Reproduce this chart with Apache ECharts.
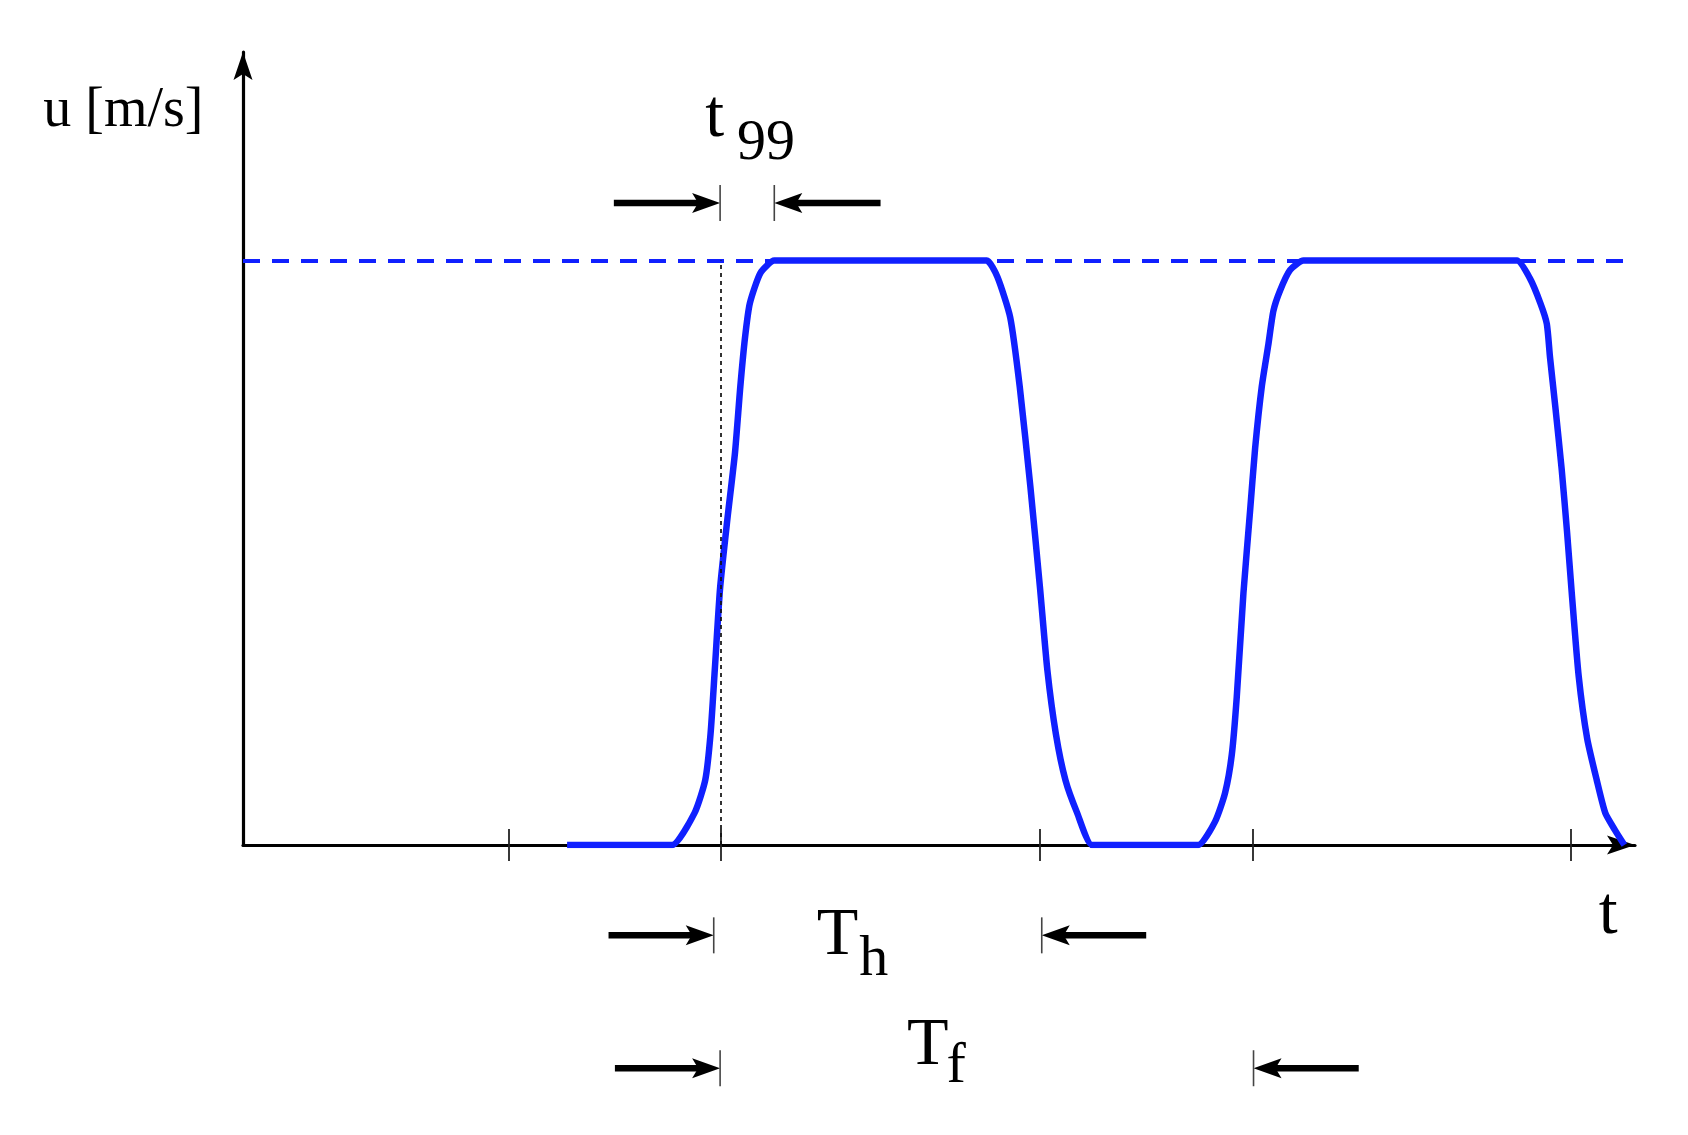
<!DOCTYPE html>
<html>
<head>
<meta charset="utf-8">
<script src="https://cdn.jsdelivr.net/npm/echarts@6/dist/echarts.min.js"></script>
<style>
  html, body { margin: 0; padding: 0; background: #fff; }
  #chart { width: 1688px; height: 1135px; }
</style>
</head>
<body>
<div id="chart"></div>
<script>
// pulse: t in sketch units, u normalised to the plateau
const idle = [[3.05, 0], [3.9, 0], [4.04, 0]];
const rise1 = [[4.25, 0.055], [4.35, 0.111], [4.40, 0.19], [4.44, 0.30], [4.49, 0.44], [4.56, 0.56],
  [4.63, 0.671], [4.68, 0.784], [4.725, 0.869], [4.77, 0.927], [4.87, 0.979], [5.0, 1]];
const hold1 = [[5.15, 1], [6.85, 1], [7.0, 1]];
const fall1 = [[7.10, 0.972], [7.22, 0.903], [7.31, 0.784], [7.41, 0.613], [7.50, 0.441], [7.57, 0.299],
  [7.65, 0.19], [7.74, 0.111], [7.85, 0.055], [7.99, 0]];
const gap1 = [[8.15, 0], [8.85, 0], [8.99, 0]];
const rise2 = [[9.148, 0.04], [9.242, 0.089], [9.305, 0.154], [9.352, 0.253], [9.415, 0.431], [9.478, 0.573],
  [9.525, 0.679], [9.588, 0.785], [9.65, 0.857], [9.697, 0.914], [9.76, 0.949], [9.854, 0.984], [9.98, 1]];
const hold2 = [[10.13, 1], [11.85, 1], [11.99, 1]];
const fall2 = [[12.11, 0.970], [12.21, 0.927], [12.27, 0.892], [12.30, 0.835], [12.35, 0.750], [12.41, 0.643],
  [12.46, 0.537], [12.505, 0.431], [12.57, 0.289], [12.65, 0.182], [12.74, 0.111], [12.82, 0.055],
  [12.91, 0.026], [13.0, 0]];

const tickT = [2.5, 4.5, 7.5, 9.5, 12.5];
const uTarget = 1;
const t99Start = 4.5;

// dimension arrows: [tail t, tip t, u level]
const dimArrows = [
  [3.49, 4.49, 1.0986], [6.0, 5.0, 1.0986],
  [3.44, 4.43, -0.1546], [8.5, 7.517, -0.1546],
  [3.5, 4.49, -0.382], [10.5, 9.51, -0.382]
];

// labels: [text, t, u]
const bigLabels = [['t', 4.35, 1.244], ['T', 5.40, -0.156], ['T', 6.25, -0.344], ['t', 12.76, -0.120]];
const subLabels = [['99', 4.65, 1.2005], ['h', 5.80, -0.197], ['f', 6.62, -0.379]];
const axisLabelU = [['u [m/s]', -1.88, 1.255]];

const pulse = [].concat(idle, rise1, hold1, fall1, gap1, rise2, hold2, fall2);

const SERIF = '"Liberation Serif", "DejaVu Serif", serif';
const BLUE = '#1020ff';
const axisArrow = 'path://M9.5,0 L19,28 L9.5,22 L0,28 Z';

function textSeries(list, size) {
  return {
    type: 'custom',
    clip: false,
    silent: true,
    data: list.map((d) => [d[1], d[2]]),
    encode: { x: 0, y: 1 },
    renderItem(params, api) {
      const p = api.coord([api.value(0), api.value(1)]);
      return {
        type: 'text',
        x: p[0],
        y: p[1],
        style: {
          text: list[params.dataIndex][0],
          fontFamily: SERIF,
          fontSize: size,
          fill: '#000',
          align: 'left',
          verticalAlign: 'middle'
        }
      };
    }
  };
}

const tickStyle = { color: '#222', width: 1.8 };

const chart = echarts.init(document.getElementById('chart'));
chart.setOption({
  animation: false,
  backgroundColor: '#fff',
  grid: { left: 243, top: 52, right: 53, bottom: 290 },
  xAxis: [
    {
      type: 'value',
      min: 0,
      max: 13.1,
      axisLine: {
        show: true,
        symbol: ['none', axisArrow],
        symbolSize: [19, 28],
        symbolOffset: [0, -14],
        lineStyle: { color: '#000', width: 3.2 }
      },
      axisTick: { show: true, customValues: tickT, length: 16, lineStyle: tickStyle },
      axisLabel: { show: false },
      splitLine: { show: false }
    },
    {
      type: 'value',
      min: 0,
      max: 13.1,
      position: 'bottom',
      axisLine: { show: false },
      axisTick: { show: true, inside: true, customValues: tickT, length: 16, lineStyle: tickStyle },
      axisLabel: { show: false },
      splitLine: { show: false }
    }
  ],
  yAxis: {
    type: 'value',
    min: 0,
    max: 1.357,
    axisLine: {
      show: true,
      symbol: ['none', axisArrow],
      symbolSize: [19, 28],
      symbolOffset: [0, -14],
      lineStyle: { color: '#000', width: 3.2 }
    },
    axisTick: { show: false },
    axisLabel: { show: false },
    splitLine: { show: false }
  },
  series: [
    {
      type: 'line',
      data: pulse,
      showSymbol: false,
      symbol: 'none',
      smooth: 0.2,
      lineStyle: { color: BLUE, width: 6.5, join: 'round' },
      z: 3,
      markLine: {
        silent: true,
        symbol: 'none',
        label: { show: false },
        data: [
          { yAxis: uTarget, lineStyle: { color: BLUE, width: 3.8, type: [17, 12] } },
          [
            { coord: [t99Start, 0], lineStyle: { color: '#111', width: 1.7, type: [4, 4] } },
            { coord: [t99Start, uTarget] }
          ]
        ]
      }
    },
    {
      type: 'custom',
      clip: false,
      silent: true,
      data: dimArrows,
      encode: { x: [0, 1], y: 2 },
      renderItem(params, api) {
        const a = api.coord([api.value(0), api.value(2)]);
        const b = api.coord([api.value(1), api.value(2)]);
        const dir = b[0] > a[0] ? 1 : -1;
        return {
          type: 'group',
          children: [
            { type: 'line', shape: { x1: a[0], y1: a[1], x2: b[0] - dir * 20, y2: b[1] },
              style: { stroke: '#000', lineWidth: 6.5 } },
            { type: 'polygon',
              shape: { points: [[b[0], b[1]], [b[0] - dir * 28, b[1] - 10], [b[0] - dir * 22, b[1]], [b[0] - dir * 28, b[1] + 10]] },
              style: { fill: '#000' } },
            { type: 'line', shape: { x1: b[0], y1: b[1] - 18, x2: b[0], y2: b[1] + 18 },
              style: { stroke: '#444', lineWidth: 1.6 } }
          ]
        };
      }
    },
    textSeries(bigLabels, 68),
    textSeries(subLabels, 58),
    textSeries(axisLabelU, 56)
  ]
});
</script>
</body>
</html>
